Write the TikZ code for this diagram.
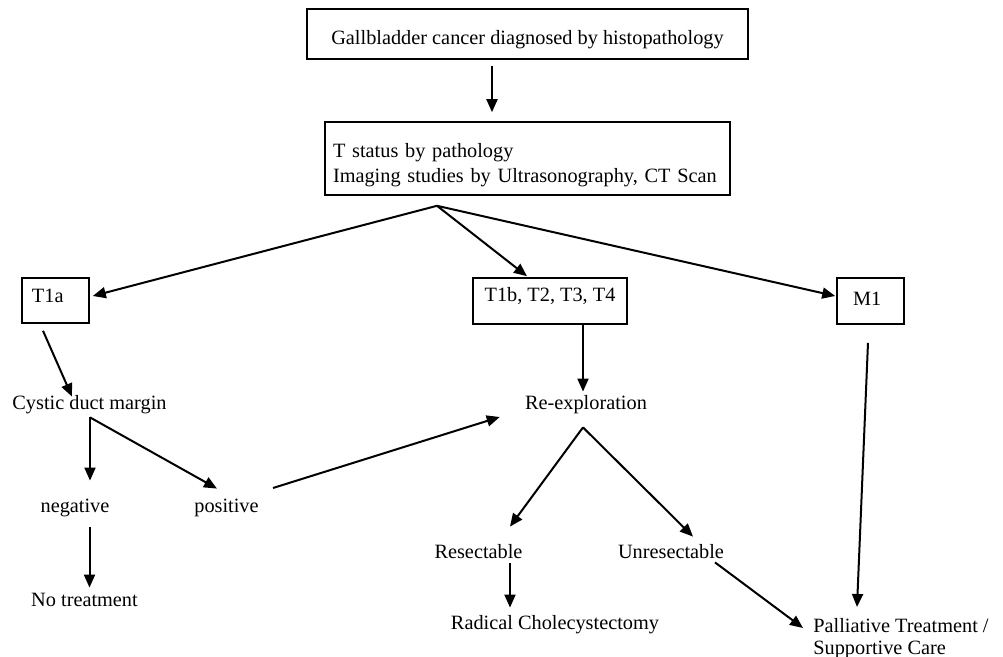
\documentclass[tikz,border=0pt]{standalone}
\usepackage{fontspec}
\setmainfont{Liberation Serif}
\usepackage{tikz}
\usetikzlibrary{arrows.meta,calc,positioning}
\tikzstyle{stage}=[
  draw=black,
  inner sep=0pt,
  line width=.8pt,
  rectangle,
]
\tikzstyle{outcome}=[
  anchor=base,
  inner sep=0pt,
  text height=7pt,
  text depth=2pt,
]
\tikzstyle{arrow}=[
  color=black,
  line width=1pt,
]
\tikzset{
  x=.5pt,
  y=-.5pt,
  every node/.style={font=\fontsize{10.15pt}{12.5pt}\selectfont},
  >={Triangle[length=6.5pt,width=5.5pt]},
}

\begin{document}
\begin{tikzpicture}
    \useasboundingbox (0,0) rectangle (1003,657);
    \node (diagnosis) [stage, minimum width=220.5pt, minimum height=25pt, text height=11pt, text depth=0pt] at (527.5,34) {Gallbladder cancer diagnosed by histopathology};
    \node (tstatus) [stage, inner xsep=4pt, text width=194.5pt, align=left, minimum height=36.5pt] at (527.5,158.5) {\rule{0pt}{13.2pt}T status by pathology\\Imaging studies by Ultrasonography, CT Scan};
    \node (tonea) [stage, inner xsep=5pt, text width=23.5pt, align=left, minimum height=22.5pt, text height=7pt, text depth=5pt] at (55.5,300.5) {T1a};
    \node (tlater) [stage, minimum width=77pt, minimum height=23pt, text height=7pt, text depth=6pt] at (550,301) {T1b, T2, T3, T4};
    \node (mone) [stage, inner xsep=8pt, text width=17.5pt, align=left, minimum height=23pt, text height=7pt, text depth=2pt] at (870.5,301) {M1};
    \node (cystic) [outcome] at (89.5,410) {Cystic duct margin};
    \node (negative) [outcome] at (75,513) {negative};
    \node (positive) [outcome] at (226.5,513) {positive};
    \node (notreat) [outcome] at (84.5,607) {No treatment};
    \node (reexplore) [outcome] at (586,410) {Re-exploration};
    \node (resect) [outcome] at (478.5,559) {Resectable};
    \node (unresect) [outcome] at (671,559) {Unresectable};
    \node (radical) [outcome] at (555,630) {Radical Cholecystectomy};
    \node (palliative) [inner sep=0pt, align=left, anchor=north west] at (813,618) {Palliative Treatment /\\[-1.5pt]Supportive Care};
    % forks
    \coordinate (T) at ($(tstatus.south)+(-90.5,10)$);
    \coordinate (C) at ($(cystic.south)+(0.5,3)$);
    \coordinate (R) at ($(reexplore.south)+(-3,13)$);
    \draw [->, arrow] ($(diagnosis.south)+(-35.5,6)$) -- ($(tstatus.north)+(-35.5,-9)$);
    \draw [->, arrow] (T) -- ($(tonea.east)+(3,-4.5)$);
    \draw [->, arrow] (T) -- ($(tlater.north)+(-23,-1)$);
    \draw [->, arrow] (T) -- ($(mone.west)+(-1,-5)$);
    \draw [->, arrow] ($(tonea.south)+(-12.5,7)$) -- ($(cystic.north)+(-17.5,1)$);
    \draw [->, arrow] (C) -- ($(negative.north)+(15,-18)$);
    \draw [->, arrow] (C) -- ($(positive.north)+(-9.5,-10)$);
    \draw [->, arrow] ($(negative.south)+(14.5,10)$) -- ($(notreat.north)+(5,-5)$);
    \draw [->, arrow] ($(positive.east)+(14,-20)$) -- ($(reexplore.west)+(-25,12)$);
    \draw [->, arrow] ($(tlater.south)+(33,0)$) -- ($(reexplore.north)+(-3,-4)$);
    \draw [->, arrow] (R) -- ($(resect.north)+(31.5,-18)$);
    \draw [->, arrow] (R) -- ($(unresect.north)+(22,-8)$);
    \draw [->, arrow] ($(resect.south)+(31.5,0)$) -- ($(radical.north)+(-45,-8)$);
    \draw [->, arrow] ($(unresect.south)+(44,-1)$) -- ($(palliative.north west)+(-10,10)$);
    \draw [->, arrow] ($(mone.south)+(-2.5,18)$) -- ($(palliative.north west)+(44,-11)$);
  \end{tikzpicture}
\end{document}
